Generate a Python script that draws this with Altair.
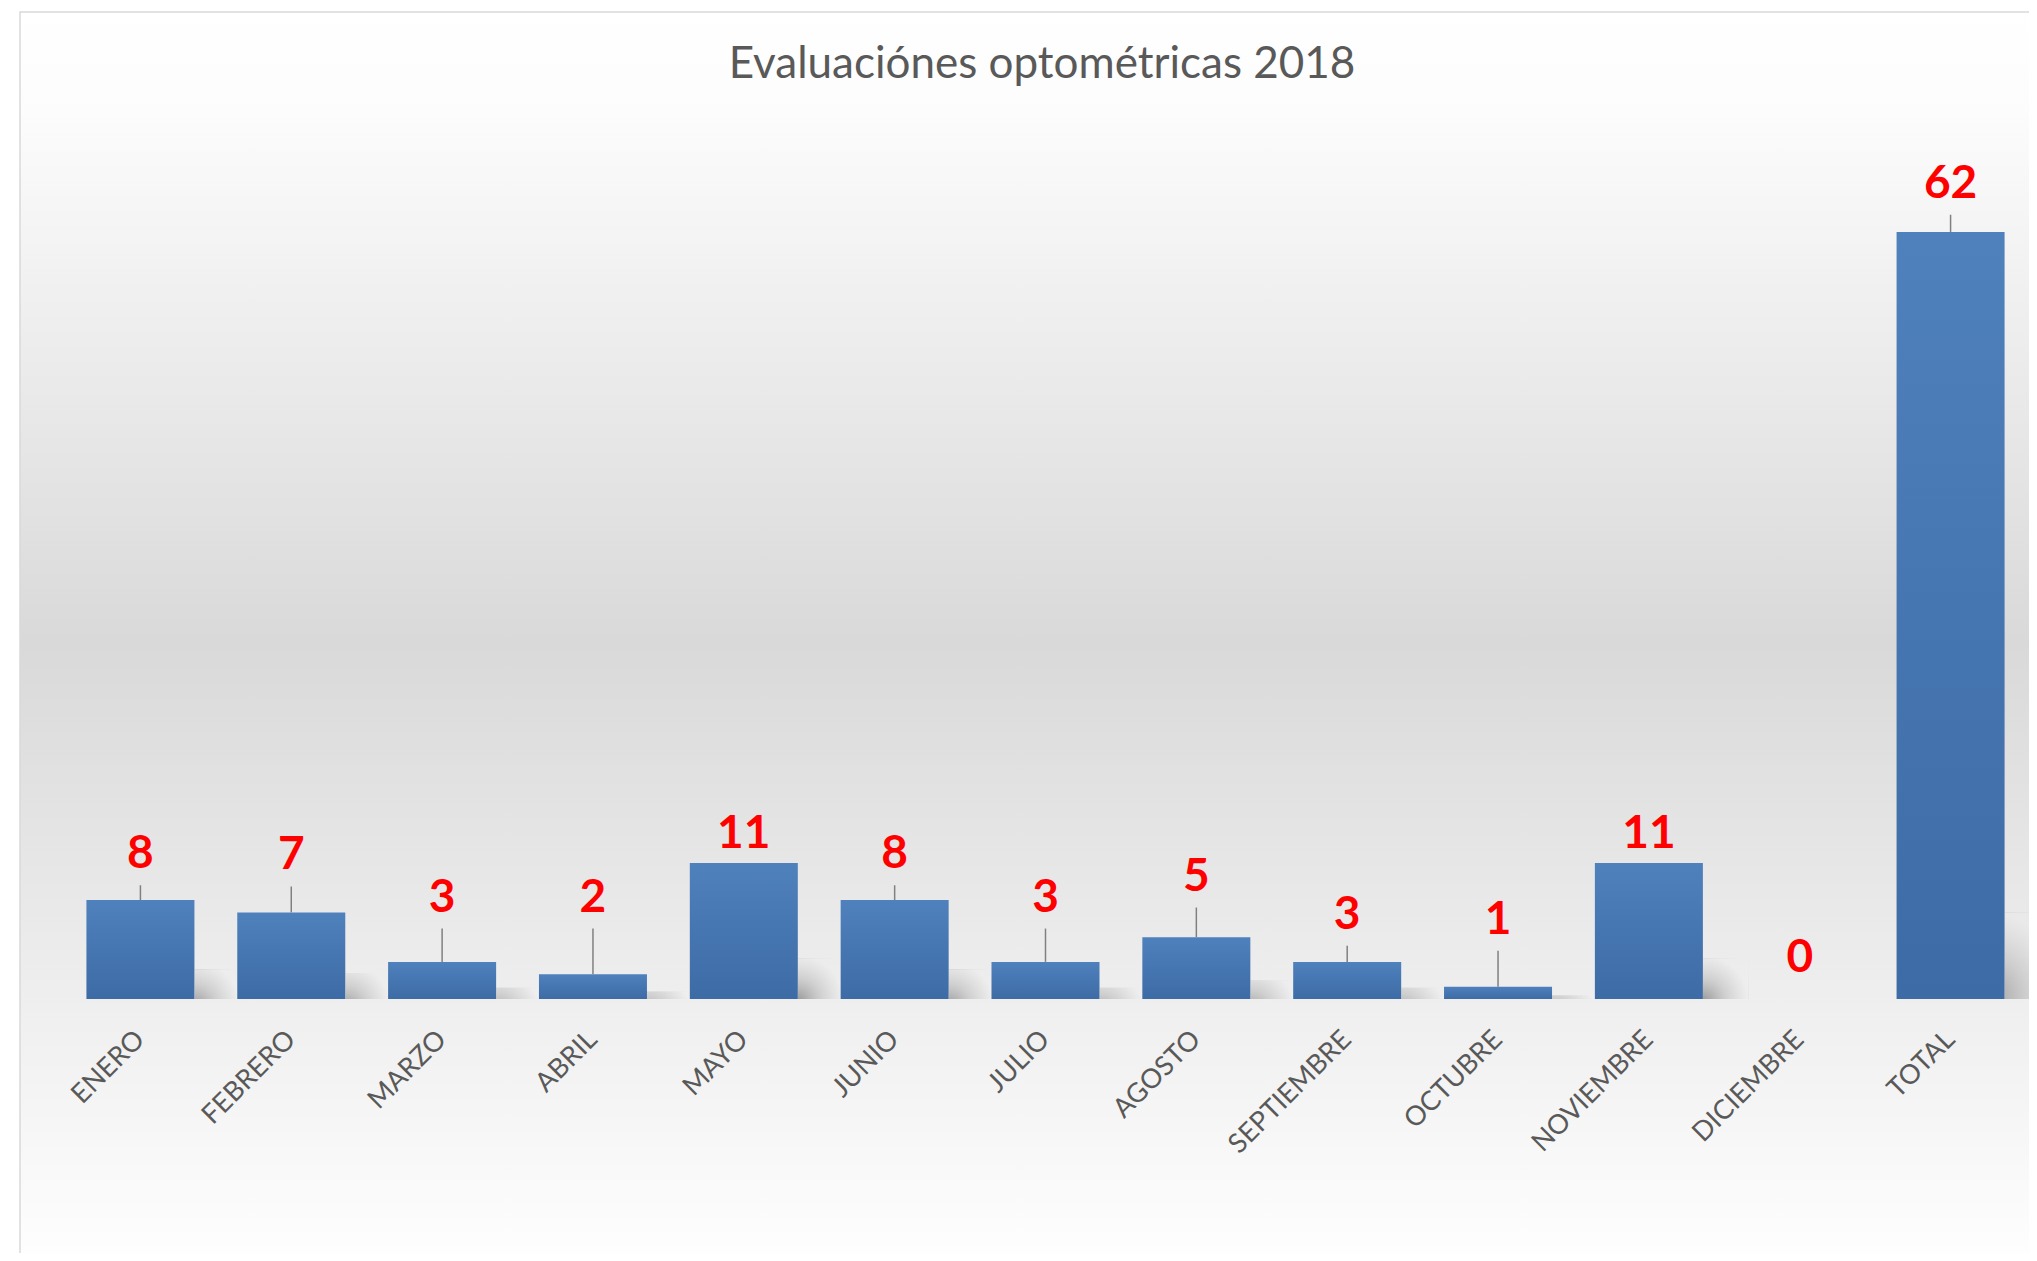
import altair as alt
import pandas as pd

TITLE = "Evaluaciónes optométricas 2018"
MONTHS = ["ENERO", "FEBRERO", "MARZO", "ABRIL", "MAYO", "JUNIO", "JULIO",
          "AGOSTO", "SEPTIEMBRE", "OCTUBRE", "NOVIEMBRE", "DICIEMBRE", "TOTAL"]
VALUES = [8, 7, 3, 2, 11, 8, 3, 5, 3, 1, 11, 0, 62]
# height (in value units) where each data label sits
LABEL_HEIGHTS = [11.7, 11.6, 8.2, 8.2, 13.3, 11.7, 8.2, 9.9, 6.8, 6.4, 13.3, 3.3, 65.9]

df = pd.DataFrame({"mes": MONTHS, "valor": VALUES, "etiqueta": LABEL_HEIGHTS})
title_df = pd.DataFrame({"t": [TITLE]})

W, H = 1961, 866
YMAX = 70
PX = H / YMAX

x_enc = alt.X(
    "mes:N", sort=MONTHS,
    scale=alt.Scale(paddingInner=0.284, paddingOuter=0.142),
    axis=alt.Axis(title=None, labelAngle=-45, labelAlign="right", labelBaseline="middle",
                  labelFont="Lato", labelFontSize=27, labelColor="#595959",
                  labelPadding=36, ticks=False, domain=False, grid=False, zindex=2),
)
y_scale = alt.Scale(domain=[0, YMAX], nice=False, zero=True)

bg_grad = alt.Gradient(
    gradient="linear", x1=0, x2=0, y1=0, y2=1,
    stops=[alt.GradientStop(color="#ffffff", offset=0),
           alt.GradientStop(color="#fcfcfc", offset=0.08),
           alt.GradientStop(color="#d9d9d9", offset=0.5),
           alt.GradientStop(color="#ffffff", offset=1)],
)
background = alt.Chart(title_df).mark_rect(
    fill=bg_grad, stroke="#d9d9d9", strokeWidth=1.5
).encode(x=alt.value(-45), x2=alt.value(2100), y=alt.value(-121), y2=alt.value(1140))

title = alt.Chart(title_df).mark_text(
    font="Lato", fontSize=44, color="#595959", baseline="alphabetic", align="center"
).encode(x=alt.value(977), y=alt.value(-55), text="t:N")

shadow_grad = alt.Gradient(
    gradient="radial", x1=0, y1=1, r1=0, x2=0, y2=1, r2=1,
    stops=[alt.GradientStop(color="rgba(120,120,120,0.75)", offset=0),
           alt.GradientStop(color="rgba(150,150,150,0.35)", offset=0.5),
           alt.GradientStop(color="rgba(170,170,170,0)", offset=1)],
)
shadows = alt.Chart(df).transform_filter("datum.valor > 0").transform_calculate(
    sh="min(datum.valor * 0.3, 7)"
).mark_bar(fill=shadow_grad, width=46, xOffset=77).encode(
    x=x_enc, y=alt.Y("sh:Q", scale=y_scale, axis=None), y2=alt.datum(0)
)

bar_grad = alt.Gradient(
    gradient="linear", x1=0, x2=0, y1=0, y2=1,
    stops=[alt.GradientStop(color="#4f81bd", offset=0),
           alt.GradientStop(color="#3d6ba5", offset=1)],
)
bars = alt.Chart(df).mark_bar(fill=bar_grad).encode(
    x=x_enc, y=alt.Y("valor:Q", scale=y_scale, axis=None)
)

leaders = alt.Chart(df).transform_filter(
    f"datum.valor > 0 && (datum.etiqueta - datum.valor) * {PX} > 34"
).mark_rule(color="#808080", strokeWidth=1.5, yOffset=31).encode(
    x=x_enc, y=alt.Y("etiqueta:Q", scale=y_scale, axis=None), y2="valor:Q"
)

labels = alt.Chart(df).mark_text(
    font="Lato", fontSize=46, fontWeight="bold", color="#ff0000", baseline="middle"
).encode(
    x=x_enc, y=alt.Y("etiqueta:Q", scale=y_scale, axis=None), text="valor:Q"
)

chart = alt.layer(background, title, shadows, bars, leaders, labels).properties(
    width=W, height=H,
    autosize=alt.AutoSizeParams(type="none"),
    padding={"left": 57, "top": 125, "right": 3, "bottom": 254},
    background="white",
).configure_view(stroke=None)

chart.save("out.html", embed_options={"renderer": "svg", "actions": False})
